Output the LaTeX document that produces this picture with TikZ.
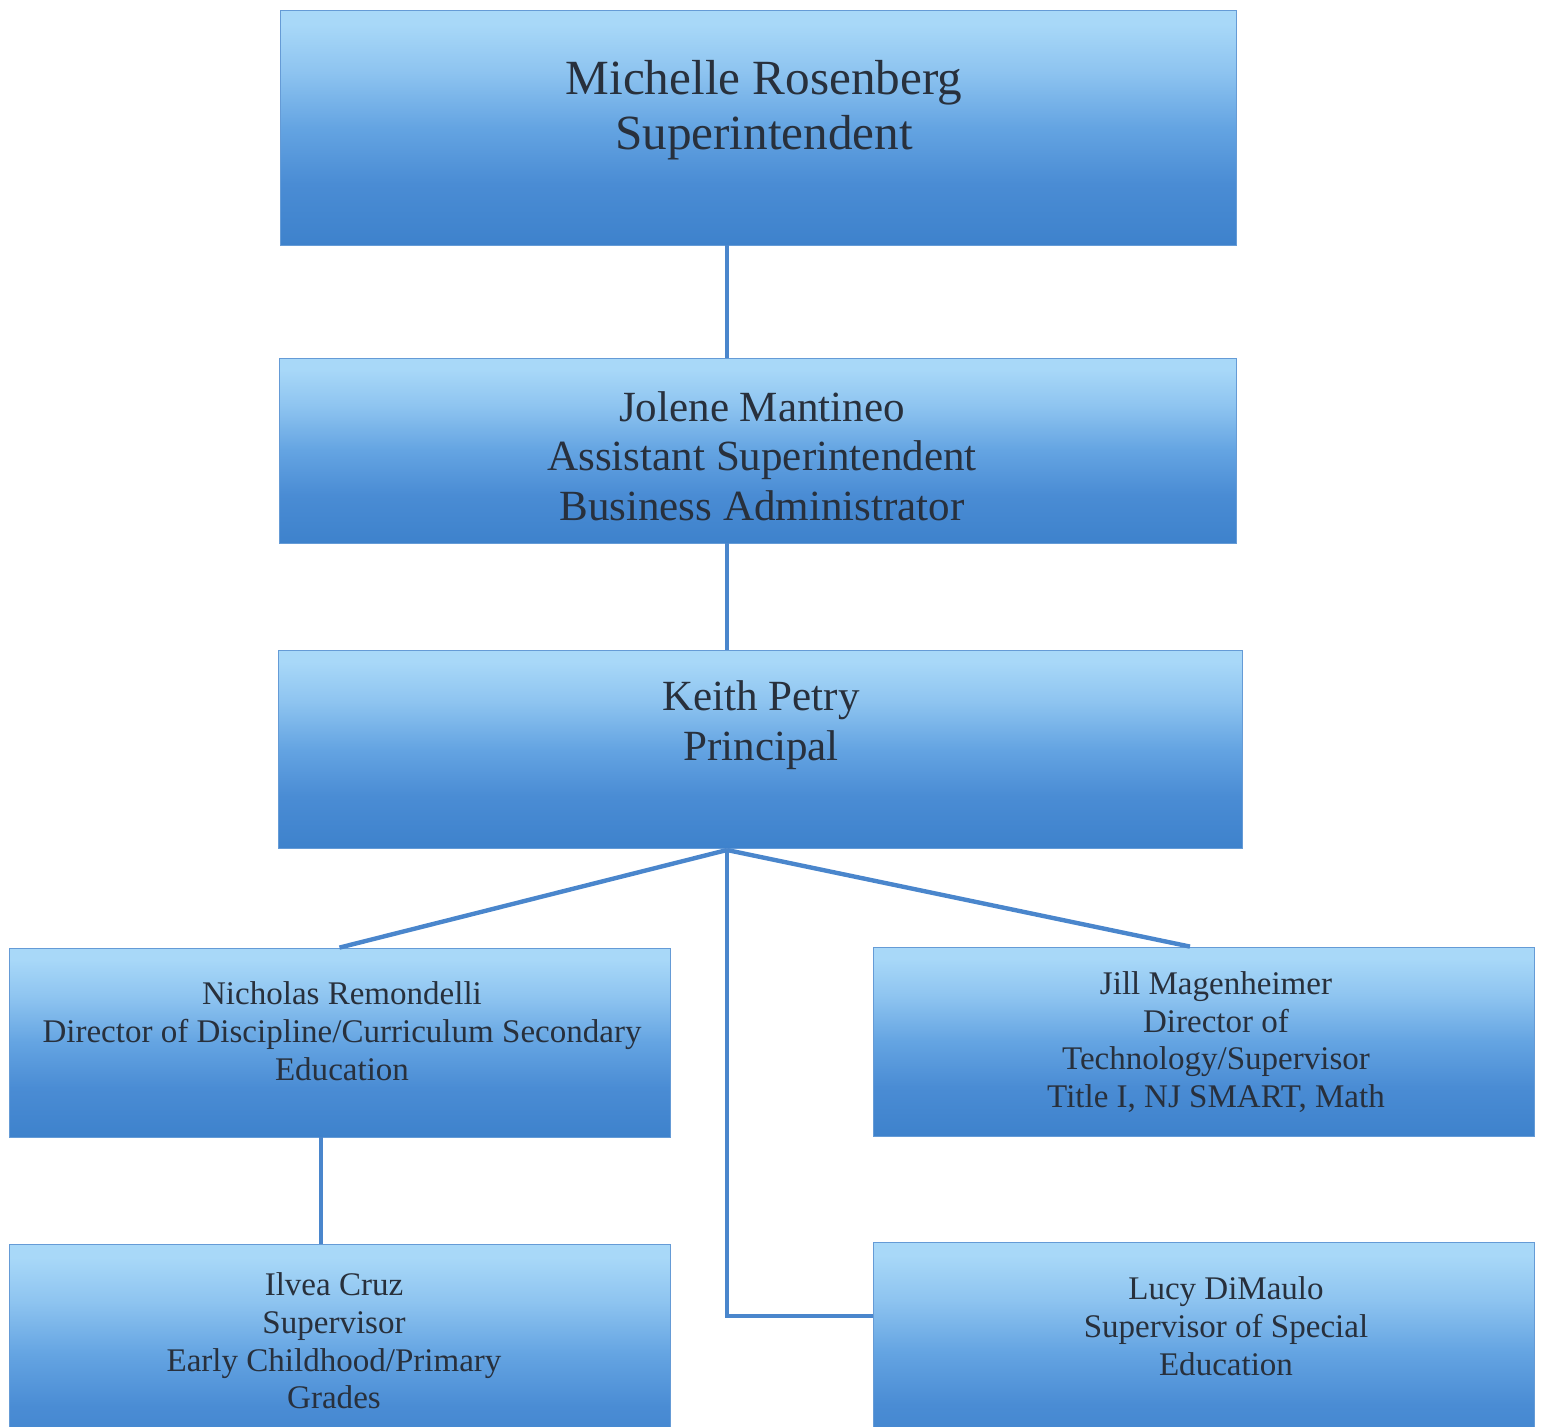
\documentclass[tikz,border=0pt]{standalone}
\usepackage{fontspec}
\setmainfont{Liberation Serif}
\definecolor{boxtop}{HTML}{A8D8F8}
\definecolor{boxlit}{HTML}{8EC4F0}
\definecolor{boxmid}{HTML}{64A4E2}
\definecolor{boxdeep}{HTML}{4A8CD4}
\definecolor{boxbot}{HTML}{3E82CC}
\definecolor{wirec}{HTML}{4A86CC}
\definecolor{inkc}{HTML}{28303C}
\pgfdeclareverticalshading{postshade}{100bp}{color(0bp)=(boxbot); color(25bp)=(boxbot); color(38bp)=(boxdeep); color(50bp)=(boxmid); color(62bp)=(boxlit); color(72bp)=(boxtop); color(100bp)=(boxtop)}
\begin{document}
\begin{tikzpicture}[x=0.02cm, y=-0.02cm,
        post/.style={rectangle, draw=boxbot!80, line width=0.5pt, shade, shading=postshade, inner sep=0pt},
        wire/.style={draw=wirec, line width=2.5pt},
        bigtxt/.style={align=center, text=inkc, font=\fontsize{28}{31.5}\selectfont},
        midtxt/.style={align=center, text=inkc, font=\fontsize{24.5}{28.3}\selectfont},
        smalltxt/.style={align=center, text=inkc, font=\fontsize{18.8}{21.5}\selectfont}]
    \clip (0,0) rectangle (1544,1426);
    \useasboundingbox (0,0) rectangle (1544,1426);
    % boxes
    \node[post, minimum width=19.14cm, minimum height=4.70cm] (sup) at (758.5,127.5) {};
    \node[post, minimum width=19.16cm, minimum height=3.70cm] (asst) at (758,450.5) {};
    \node[post, minimum width=19.30cm, minimum height=3.96cm] (prin) at (760.5,749) {};
    \node[post, minimum width=13.22cm, minimum height=3.78cm] (nic) at (339.5,1042.5) {};
    \node[post, minimum width=13.22cm, minimum height=3.78cm] (jill) at (1203.5,1041.5) {};
    \node[post, minimum width=13.22cm, minimum height=4.40cm] (ilv) at (339.5,1354) {};
    \node[post, minimum width=13.22cm, minimum height=4.40cm] (lucy) at (1203.5,1352) {};
    % texts
    \node[bigtxt] (supT) at (764,110) {Michelle Rosenberg\\Superintendent};
    \node[midtxt] (asstT) at (762,456) {Jolene Mantineo\\Assistant Superintendent\\Business Administrator};
    \node[midtxt] (prinT) at (761,725) {Keith Petry\\Principal};
    \node[smalltxt] (nicT) at (342,1031) {Nicholas Remondelli\\Director of Discipline/Curriculum Secondary\\Education};
    \node[smalltxt] (jillT) at (1216,1042) {Jill Magenheimer\\Director of\\Technology/Supervisor\\Title I, NJ SMART, Math};
    \node[smalltxt] (ilvT) at (334,1341) {Ilvea Cruz\\Supervisor\\Early Childhood/Primary\\Grades};
    \node[smalltxt] (lucyT) at (1226,1326) {Lucy DiMaulo\\Supervisor of Special\\Education};
    % connectors
    \coordinate (hub) at (727,850);
    \draw[wire] (sup.south -| hub) -- (asst.north -| hub);
    \draw[wire] (asst.south -| hub) -- (prin.north -| hub);
    \draw[wire] (hub) -- (nic.north);
    \draw[wire] (hub) -- ([xshift=-0.27cm]jill.north);
    \draw[wire] (hub) |- ([yshift=0.72cm]lucy.west);
    \draw[wire] ([xshift=-0.37cm]nic.south) -- ([xshift=-0.37cm]ilv.north);
\end{tikzpicture}
\end{document}
